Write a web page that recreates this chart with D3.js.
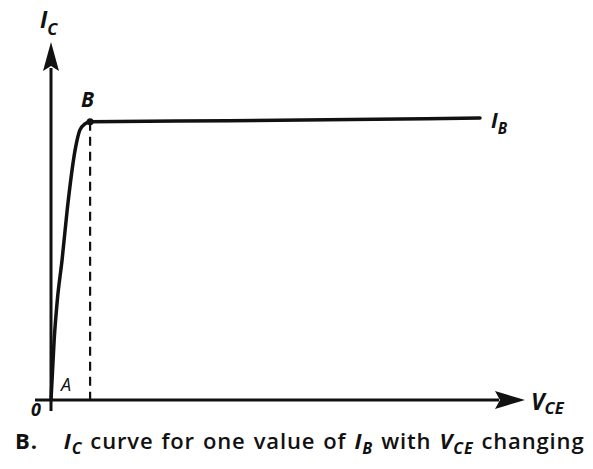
<!DOCTYPE html>
<html>
<head>
<meta charset="utf-8">
<script src="https://cdn.jsdelivr.net/npm/d3@7"></script>
<style>
  body { margin: 0; background: #fff; }
  text { font-family: "Open Sans", sans-serif; fill: #111; }
</style>
</head>
<body>
<svg id="svg1"></svg>
<script>
// curve of Ic against Vce for a single Ib
var vce = [0, 0.08, 0.16, 0.28, 0.41, 0.61, 0.66, 0.73, 0.86, 0.99, 4.5, 8.84, 10.86]
var ic  = [0, 1.68, 2.79, 3.91, 5.31, 6.98, 7.26, 7.54, 7.71, 7.77, 7.80, 7.85, 7.88]
var pointB = {vce: 0.99, ic: 7.77}
var axisLabels = {x: "CE", y: "C", curve: "B"}

var width = 593, height = 469

var svg = d3.select("#svg1")
  .attr("width", width)
  .attr("height", height)

// scales: origin at (51,400)
var x = d3.scaleLinear().domain([0, 12]).range([51, 525])
var y = d3.scaleLinear().domain([0, 10]).range([400, 42])

// axes
var arrowX = svg.append("g")
arrowX.append("line")
  .attr("x1", 35).attr("y1", y(0))
  .attr("x2", x(12) - 26).attr("y2", y(0))
  .style("stroke", "#111").style("stroke-width", 3)
arrowX.append("path")
  .attr("d", `M${x(12)},${y(0)} L${x(12)-30},${y(0)-9} L${x(12)-25},${y(0)} L${x(12)-30},${y(0)+9} Z`)
  .style("fill", "#111")

var arrowY = svg.append("g")
arrowY.append("line")
  .attr("x1", x(0)).attr("y1", 411)
  .attr("x2", x(0)).attr("y2", y(10) + 26)
  .style("stroke", "#111").style("stroke-width", 3)
arrowY.append("path")
  .attr("d", `M${x(0)},${y(10)} L${x(0)-8},${y(10)+29} L${x(0)},${y(10)+24} L${x(0)+8},${y(10)+29} Z`)
  .style("fill", "#111")

// dashed drop from B
svg.append("line")
  .attr("x1", x(pointB.vce)).attr("y1", y(pointB.ic))
  .attr("x2", x(pointB.vce)).attr("y2", y(0))
  .style("stroke", "#111")
  .style("stroke-width", 2.2)
  .style("stroke-dasharray", "9,6")

// the curve
var pts = vce.map(function(d, i){ return [d, ic[i]] })
var line = d3.line()
  .x(function(d){ return x(d[0]) })
  .y(function(d){ return y(d[1]) })
  .curve(d3.curveMonotoneX)

svg.append("path")
  .datum(pts)
  .attr("d", line)
  .style("fill", "none")
  .style("stroke", "#111")
  .style("stroke-width", 3.5)
  .style("stroke-linecap", "round")

svg.append("circle")
  .attr("cx", x(pointB.vce)).attr("cy", y(pointB.ic))
  .attr("r", 3.5)
  .style("fill", "#111")

// labels
function subLabel(px, py, main, sub, size, drop){
  var t = svg.append("text")
    .attr("x", px).attr("y", py)
    .style("font-style", "italic")
    .style("font-weight", 700)
    .style("font-size", size + "px")
  t.append("tspan").text(main)
  t.append("tspan")
    .attr("dy", drop)
    .style("font-size", (size * 0.72) + "px")
    .text(sub)
  return t
}

subLabel(40, 28, "I", axisLabels.y, 23, 7)
subLabel(531, 410, "V", axisLabels.x, 23, 4)
subLabel(491, 128, "I", axisLabels.curve, 21, 6)

svg.append("text")
  .attr("x", 81).attr("y", 107)
  .style("font-style", "italic").style("font-weight", 700)
  .style("font-size", "21px")
  .text("B")
svg.append("text")
  .attr("x", 61).attr("y", 391)
  .style("font-style", "italic")
  .style("font-size", "18px")
  .text("A")
svg.append("text")
  .attr("x", 31).attr("y", 416)
  .style("font-style", "italic").style("font-weight", 700)
  .style("font-size", "18px")
  .text("0")

// caption
var cap = svg.append("text")
  .attr("x", 15).attr("y", 449)
  .style("font-size", "22px")
  .style("font-weight", 600)
  .style("letter-spacing", "0.85px")
  .style("word-spacing", "1.5px")
cap.append("tspan").style("font-weight", 700).text("B.")
cap.append("tspan").attr("dx", 26).style("font-style", "italic").style("font-weight", 700).text("I")
cap.append("tspan").attr("dy", 5).style("font-style", "italic").style("font-weight", 700).style("font-size", "16px").text("C")
cap.append("tspan").attr("dy", -5).text(" curve for one value of ")
cap.append("tspan").style("font-style", "italic").style("font-weight", 700).text("I")
cap.append("tspan").attr("dy", 5).style("font-style", "italic").style("font-weight", 700).style("font-size", "16px").text("B")
cap.append("tspan").attr("dy", -5).text(" with ")
cap.append("tspan").style("font-style", "italic").style("font-weight", 700).text("V")
cap.append("tspan").attr("dy", 5).style("font-style", "italic").style("font-weight", 700).style("font-size", "16px").text("CE")
cap.append("tspan").attr("dy", -5).text(" changing")
</script>
</body>
</html>
